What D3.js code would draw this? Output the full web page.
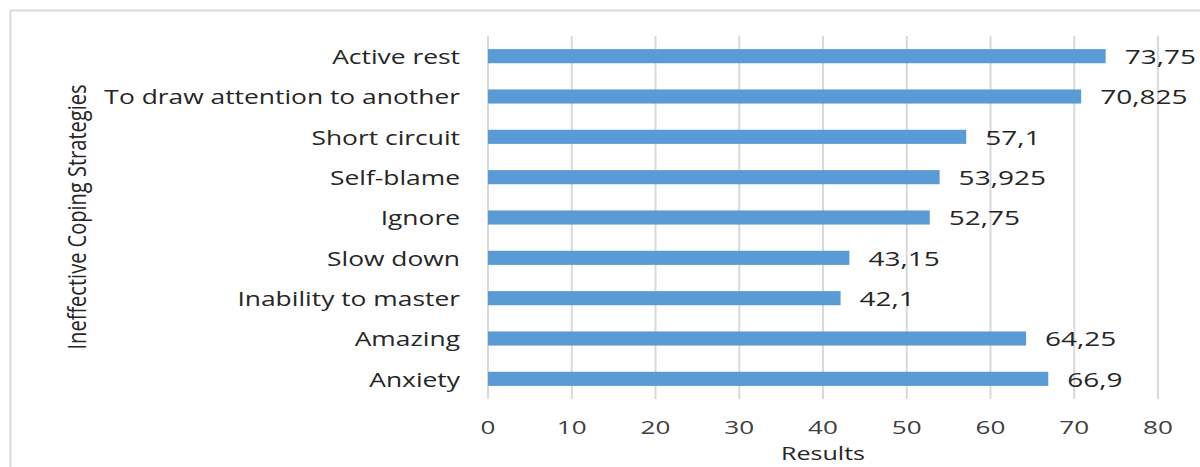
<!DOCTYPE html>
<html>
<head>
<meta charset="utf-8">
<script src="https://cdn.jsdelivr.net/npm/d3@7"></script>
<style>
  html, body { margin: 0; padding: 0; background: #fff; }
  svg { display: block; }
  text { font-family: "Open Sans", "DejaVu Sans", sans-serif; }
</style>
</head>
<body>
<svg id="chart" width="1200" height="467"></svg>
<script>
// Ineffective coping strategies, top to bottom
const categories = [
  "Active rest",
  "To draw attention to another",
  "Short circuit",
  "Self-blame",
  "Ignore",
  "Slow down",
  "Inability to master",
  "Amazing",
  "Anxiety"
];
const values = [73.75, 70.825, 57.1, 53.925, 52.75, 43.15, 42.1, 64.25, 66.9];
const valueLabels = ["73,75", "70,825", "57,1", "53,925", "52,75", "43,15", "42,1", "64,25", "66,9"];
const xTicks = [0, 10, 20, 30, 40, 50, 60, 70, 80];
const xTitle = "Results";
const yTitle = "Ineffective Coping Strategies";

const svg = d3.select("#chart");
const plot = { left: 488, right: 1158, top: 36, bottom: 399 };

// outer chart frame
svg.append("rect")
  .attr("x", 10.5).attr("y", 10.5)
  .attr("width", 1300).attr("height", 600)
  .attr("fill", "none").attr("stroke", "#d9d9d9").attr("stroke-width", 2);

const x = d3.scaleLinear().domain([0, 80]).range([plot.left, plot.right]);
const y = d3.scaleBand().domain(categories)
  .range([plot.top, plot.bottom])
  .paddingInner(0.65).paddingOuter(0.325);

// vertical gridlines
svg.append("g").selectAll("line").data(xTicks).join("line")
  .attr("x1", d => x(d)).attr("x2", d => x(d))
  .attr("y1", plot.top).attr("y2", plot.bottom)
  .attr("stroke", "#d9d9d9").attr("stroke-width", 2);

// bars
svg.append("g").selectAll("rect").data(categories).join("rect")
  .attr("x", x(0))
  .attr("y", d => y(d))
  .attr("width", (d, i) => x(values[i]) - x(0))
  .attr("height", y.bandwidth())
  .attr("fill", "#5b9bd5");

// text drawn with a horizontal stretch
function stretchedText(g, tx, ty, anchor, sx) {
  return g.append("text")
    .attr("transform", `translate(${tx},${ty}) scale(${sx},1)`)
    .attr("text-anchor", anchor)
    .attr("dominant-baseline", "central");
}

// category labels
const catG = svg.append("g").attr("fill", "#262626").attr("font-size", 20);
categories.forEach(c => {
  stretchedText(catG, 460, y(c) + y.bandwidth() / 2, "end", 1.32).text(c);
});

// value labels
const valG = svg.append("g").attr("fill", "#262626").attr("font-size", 20);
categories.forEach((c, i) => {
  stretchedText(valG, x(values[i]) + 19, y(c) + y.bandwidth() / 2, "start", 1.4).text(valueLabels[i]);
});

// x-axis tick labels
const tickG = svg.append("g").attr("fill", "#404040").attr("font-size", 18);
xTicks.forEach(t => {
  stretchedText(tickG, x(t), 427, "middle", 1.45).text(t);
});

// x-axis title
stretchedText(svg.append("g").attr("fill", "#262626").attr("font-size", 19),
  (plot.left + plot.right) / 2, 453, "middle", 1.32).text(xTitle);

// y-axis title
svg.append("text")
  .attr("transform", `translate(76,217) rotate(-90)`)
  .attr("text-anchor", "middle")
  .attr("dominant-baseline", "central")
  .attr("font-size", 25)
  .attr("fill", "#262626")
  .attr("textLength", 265)
  .attr("lengthAdjust", "spacingAndGlyphs")
  .text(yTitle);
</script>
</body>
</html>
